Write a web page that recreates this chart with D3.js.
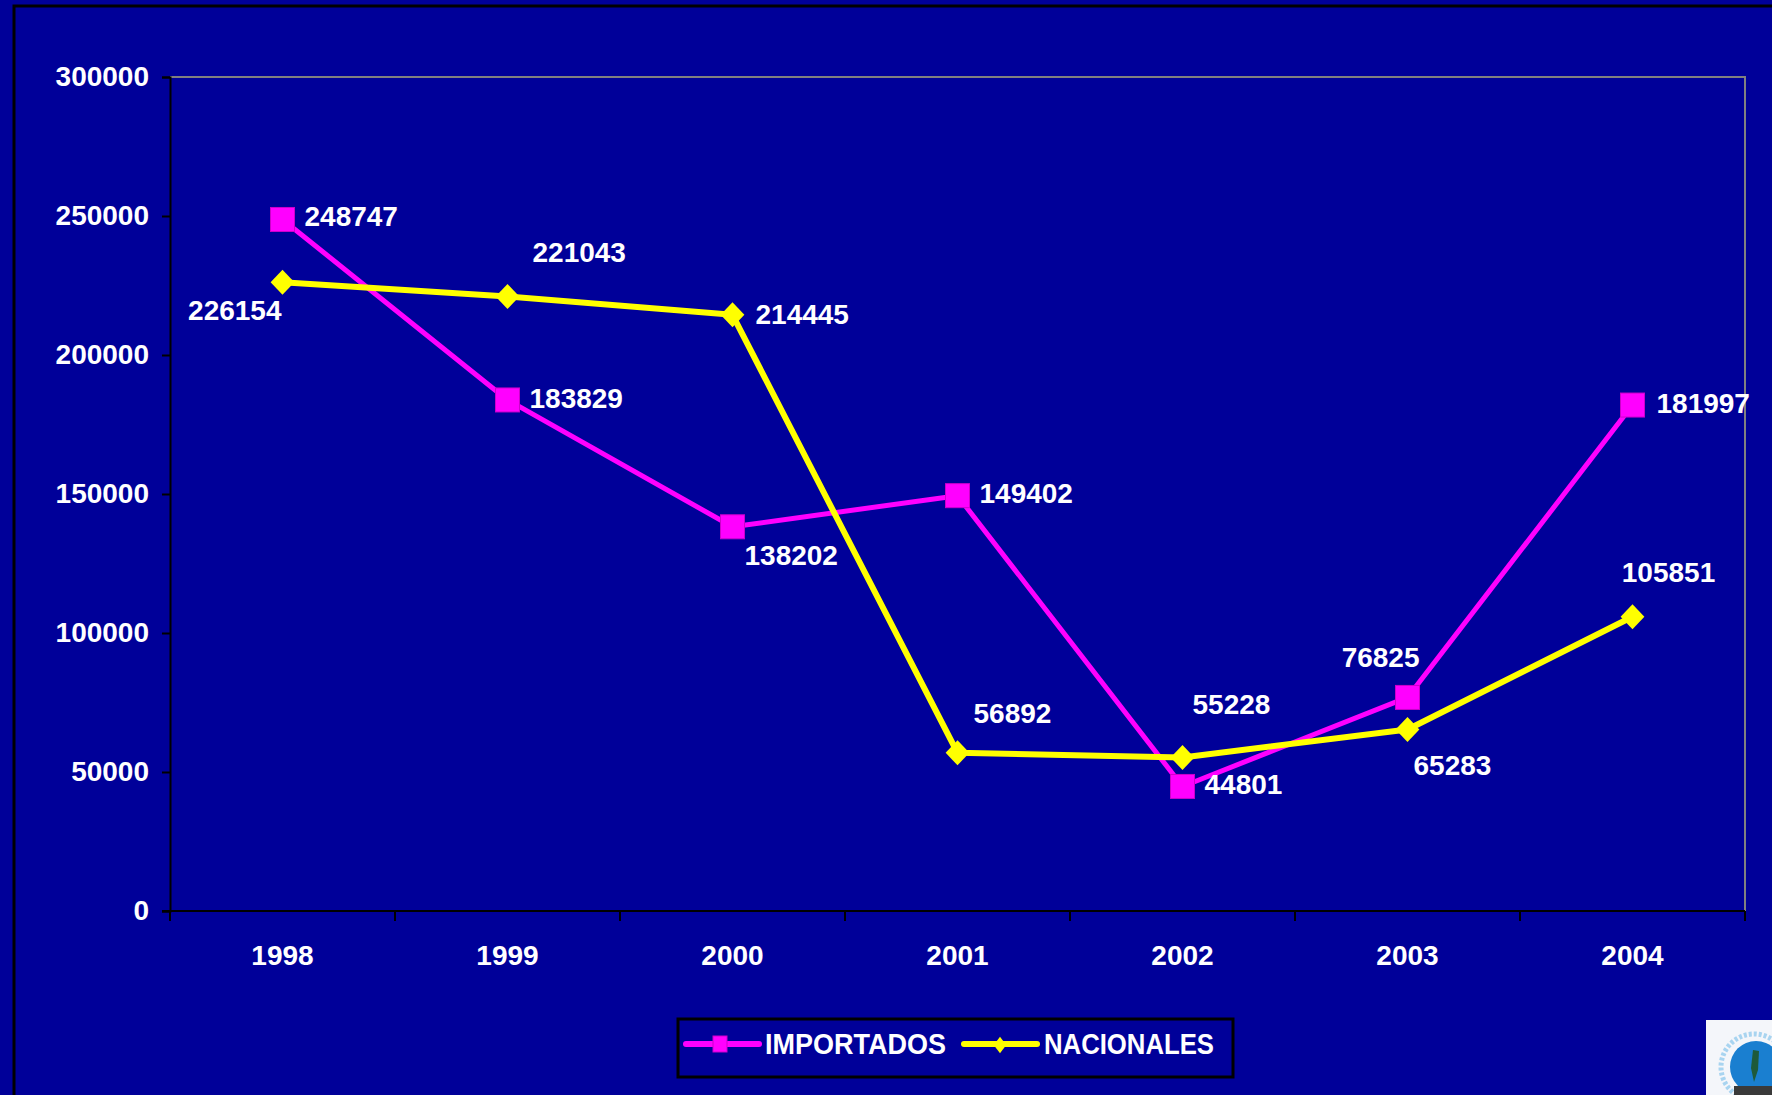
<!DOCTYPE html>
<html>
<head>
<meta charset="utf-8">
<script src="https://cdn.jsdelivr.net/npm/d3@7"></script>
<style>
  html, body { margin: 0; padding: 0; background: #000099; overflow: hidden; }
  svg text { font-family: "Liberation Sans", Arial, sans-serif; font-weight: bold; fill: #ffffff; }
</style>
</head>
<body>
<svg id="chart" width="1772" height="1095"></svg>
<script>
// Chart data
const YEARS = ['1998', '1999', '2000', '2001', '2002', '2003', '2004'];
const IMPORTADOS = [248747, 183829, 138202, 149402, 44801, 76825, 181997];
const NACIONALES = [226154, 221043, 214445, 56892, 55228, 65283, 105851];
const Y_TICKS = [0, 50000, 100000, 150000, 200000, 250000, 300000];
const SERIES_NAMES = ['IMPORTADOS', 'NACIONALES'];

// Label placement (anchor, dx, dy relative to the point) - layout only
const IMP_LABEL_POS = [['start', 22, -3], ['start', 22, -1], ['start', 12, 29], ['start', 22, -2],
                       ['start', 22, -2], ['end', 12, -40], ['start', 24, -2]];
const NAC_LABEL_POS = [['end', -1, 28], ['start', 25, -44], ['start', 23, 0], ['start', 16, -39],
                       ['start', 10, -53], ['start', 6, 36], ['middle', 36, -44]];

const MAGENTA = '#ff00ff';
const YELLOW = '#ffff00';

const svg = d3.select('#chart');

// outer frame (slide chart border)
svg.append('rect')
    .attr('x', 14).attr('y', 6)
    .attr('width', 1800).attr('height', 1200)
    .attr('fill', '#000099')
    .attr('stroke', '#000000')
    .attr('stroke-width', 3);

// plot area
const plotLeft = 170, plotRight = 1745, plotTop = 77, plotBottom = 911;

const x = d3.scaleBand().domain(YEARS).range([plotLeft, plotRight]);
const y = d3.scaleLinear().domain([0, 300000]).range([plotBottom, plotTop]);

// top/right gray border
svg.append('path')
    .attr('d', `M${plotLeft},${plotTop} H${plotRight} V${plotBottom}`)
    .attr('fill', 'none')
    .attr('stroke', '#808080')
    .attr('stroke-width', 2);

// y axis
const yAxis = svg.append('g')
    .attr('transform', `translate(${plotLeft},0)`)
    .call(d3.axisLeft(y).tickValues(Y_TICKS).tickSize(8).tickPadding(13).tickFormat(d3.format('d')));
yAxis.select('.domain').attr('stroke', '#000').attr('stroke-width', 2);
yAxis.selectAll('.tick line').attr('stroke', '#000').attr('stroke-width', 2);
yAxis.selectAll('.tick text').attr('font-size', 28).attr('fill', '#fff');

// x axis (ticks at category boundaries)
const xAxis = svg.append('g')
    .attr('transform', `translate(0,${plotBottom})`)
    .call(d3.axisBottom(x).tickSize(0).tickPadding(34));
xAxis.select('.domain').attr('stroke', '#000').attr('stroke-width', 2)
    .attr('d', `M${plotLeft - 8},0H${plotRight}`);
xAxis.selectAll('.tick text').attr('font-size', 28).attr('fill', '#fff');
svg.append('g').selectAll('line')
    .data(d3.range(YEARS.length + 1))
    .enter().append('line')
    .attr('x1', i => plotLeft + i * x.step()).attr('x2', i => plotLeft + i * x.step())
    .attr('y1', plotBottom).attr('y2', plotBottom + 10)
    .attr('stroke', '#000').attr('stroke-width', 2);

const cx = (d, i) => x(YEARS[i]) + x.bandwidth() / 2;
const line = d3.line().x((d, i) => cx(d, i)).y(d => y(d));

// magenta drawn first, yellow on top
svg.append('path').datum(IMPORTADOS)
    .attr('d', line).attr('fill', 'none')
    .attr('stroke', MAGENTA).attr('stroke-width', 5).attr('stroke-linejoin', 'round');
svg.append('path').datum(NACIONALES)
    .attr('d', line).attr('fill', 'none')
    .attr('stroke', YELLOW).attr('stroke-width', 6).attr('stroke-linejoin', 'round');

// markers
svg.append('g').selectAll('rect')
    .data(IMPORTADOS).enter().append('rect')
    .attr('x', (d, i) => cx(d, i) - 12).attr('y', d => y(d) - 12)
    .attr('width', 24).attr('height', 24)
    .attr('fill', MAGENTA).attr('stroke', '#cc00cc').attr('stroke-width', 1);

const diamond = d3.symbol().type(d3.symbolDiamond2).size(360);
svg.append('g').selectAll('path')
    .data(NACIONALES).enter().append('path')
    .attr('d', diamond)
    .attr('transform', (d, i) => `translate(${cx(d, i)},${y(d)}) scale(1,1.05)`)
    .attr('fill', YELLOW);

// data labels
function labels(values, pos) {
    svg.append('g').selectAll('text')
        .data(values).enter().append('text')
        .attr('x', (d, i) => cx(d, i) + pos[i][1])
        .attr('y', (d, i) => y(d) + pos[i][2])
        .attr('text-anchor', (d, i) => pos[i][0])
        .attr('dominant-baseline', 'central')
        .attr('font-size', 28)
        .text(d => d);
}
labels(IMPORTADOS, IMP_LABEL_POS);
labels(NACIONALES, NAC_LABEL_POS);

// legend
const legend = svg.append('g');
legend.append('rect')
    .attr('x', 678).attr('y', 1019).attr('width', 555).attr('height', 58)
    .attr('fill', 'none').attr('stroke', '#000').attr('stroke-width', 3);

const legendItems = [
    { name: SERIES_NAMES[0], color: MAGENTA, x0: 686, textX: 765, textW: 181, marker: 'square' },
    { name: SERIES_NAMES[1], color: YELLOW, x0: 964, textX: 1044, textW: 170, marker: 'diamond' }
];
legendItems.forEach(it => {
    legend.append('line')
        .attr('x1', it.x0).attr('x2', it.x0 + 73)
        .attr('y1', 1044).attr('y2', 1044)
        .attr('stroke', it.color).attr('stroke-width', 6).attr('stroke-linecap', 'round');
    if (it.marker === 'square') {
        legend.append('rect')
            .attr('x', it.x0 + 27).attr('y', 1036).attr('width', 14).attr('height', 16)
            .attr('fill', it.color).attr('stroke', '#cc00cc').attr('stroke-width', 1);
    } else {
        legend.append('path')
            .attr('d', d3.symbol().type(d3.symbolDiamond2).size(100))
            .attr('transform', `translate(${it.x0 + 36},1045) scale(1,1.3)`)
            .attr('fill', it.color);
    }
    legend.append('text')
        .attr('x', it.textX).attr('y', 1044)
        .attr('dominant-baseline', 'central')
        .attr('font-size', 29)
        .attr('textLength', it.textW).attr('lengthAdjust', 'spacingAndGlyphs')
        .text(it.name);
});

// small logo in the bottom-right corner
const logo = svg.append('g').attr('transform', 'translate(1706,1020)');
logo.append('rect').attr('width', 70).attr('height', 80).attr('fill', '#f4f6fa');
logo.append('circle').attr('cx', 48).attr('cy', 47).attr('r', 33)
    .attr('fill', 'none').attr('stroke', '#a8d4f0').attr('stroke-width', 5).attr('stroke-dasharray', '3 2');
logo.append('circle').attr('cx', 50).attr('cy', 47).attr('r', 26).attr('fill', '#1a7fd0');
logo.append('path').attr('d', 'M47,30 L53,31 L52,50 L48,62 L45,48 Z').attr('fill', '#1e5a3a');
logo.append('rect').attr('x', 28).attr('y', 66).attr('width', 45).attr('height', 14).attr('fill', '#3a3a3a');
</script>
</body>
</html>
